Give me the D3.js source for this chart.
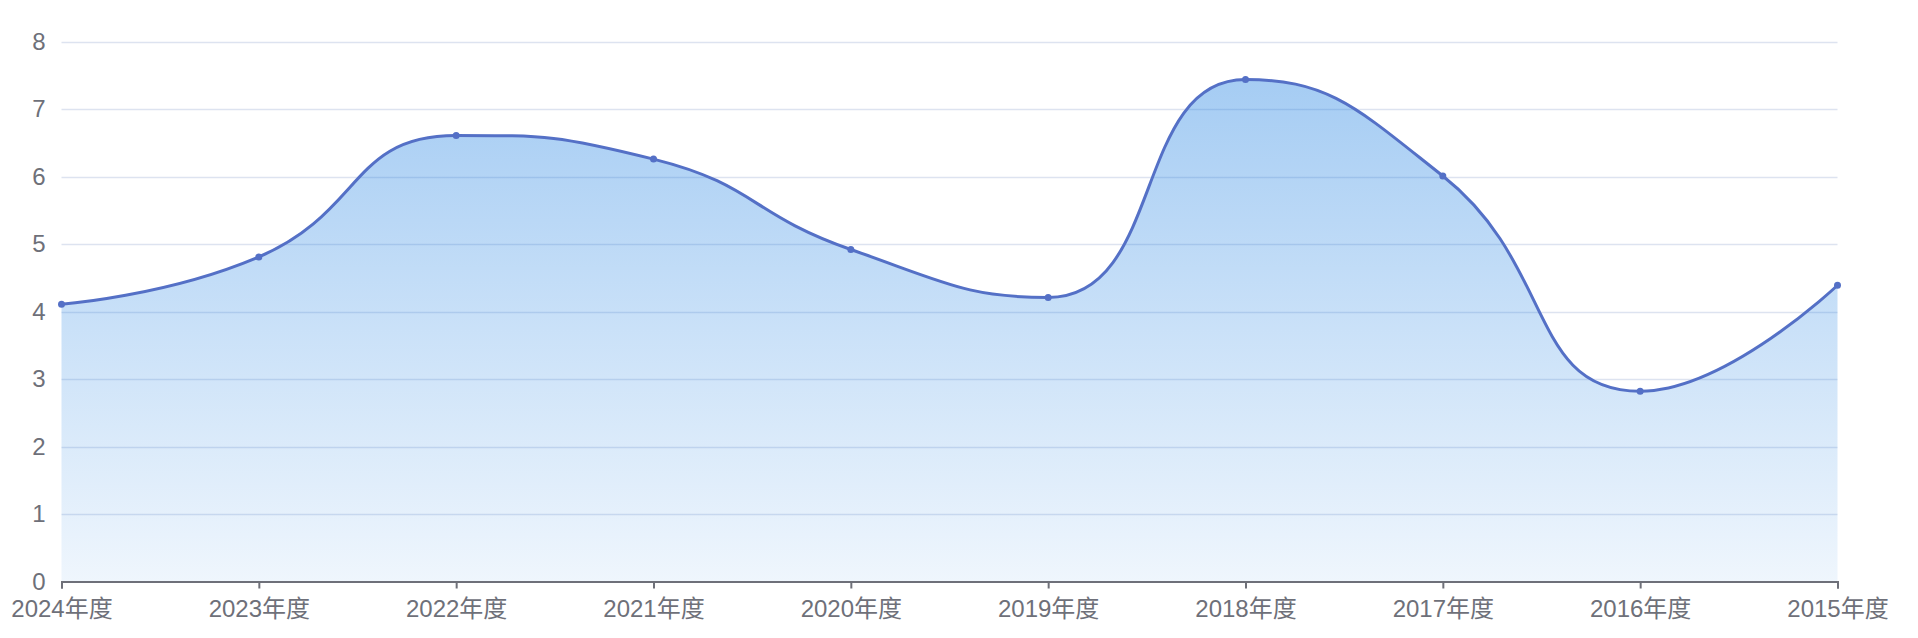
<!DOCTYPE html>
<html>
<head>
<meta charset="utf-8">
<script src="https://cdn.jsdelivr.net/npm/d3@7"></script>
<style>
  html, body { margin: 0; padding: 0; background: #fff; }
  svg { display: block; }
  text { font-family: "Liberation Sans", "Noto Sans CJK SC", sans-serif; }
</style>
</head>
<body>
<svg id="chart" width="1918" height="638"></svg>
<script>
const categories = ["2024年度","2023年度","2022年度","2021年度","2020年度","2019年度","2018年度","2017年度","2016年度","2015年度"];
const values = [4.11, 4.81, 6.61, 6.26, 4.92, 4.21, 7.44, 6.01, 2.82, 4.39];
const yTicks = [0,1,2,3,4,5,6,7,8];

const W = 1918, H = 638;
const margin = {left: 61.5, right: 80.5, top: 41.7, bottom: 56.5};
const svg = d3.select("#chart");

const x = d3.scalePoint().domain(categories).range([margin.left, W - margin.right]);
const y = d3.scaleLinear().domain([0, 8]).range([H - margin.bottom, margin.top]);

const textColor = "#6E7079";

// gridlines
svg.append("g").selectAll("line").data(yTicks.filter(d => d > 0)).join("line")
  .attr("x1", margin.left).attr("x2", W - margin.right)
  .attr("y1", d => Math.round(y(d)) + 0.5).attr("y2", d => Math.round(y(d)) + 0.5)
  .attr("stroke", "#DDE3F0").attr("stroke-width", 1.5);

// ECharts-like smooth path
const pts = categories.map((c, i) => [x(c), y(values[i])]);
function smoothPath(points, smooth, ctx) {
  let prevX, prevY, cpx0, cpy0, cpx1, cpy1, nextCpx0, nextCpy0;
  const n = points.length;
  for (let k = 0; k < n; k++) {
    const [px, py] = points[k];
    if (k === 0) {
      ctx.moveTo(px, py);
      cpx0 = px; cpy0 = py;
    } else {
      if (k >= n - 1) {
        cpx1 = px; cpy1 = py;
      } else {
        const [nx, ny] = points[k + 1];
        let vx = nx - prevX, vy = ny - prevY;
        const dx0 = px - prevX, dx1 = nx - px, dy0 = py - prevY, dy1 = ny - py;
        const lenPrev = Math.sqrt(dx0*dx0 + dy0*dy0);
        const lenNext = Math.sqrt(dx1*dx1 + dy1*dy1);
        const ratio = lenNext / (lenNext + lenPrev);
        cpx1 = px - vx * smooth * (1 - ratio);
        cpy1 = py - vy * smooth * (1 - ratio);
        nextCpx0 = px + vx * smooth * ratio;
        nextCpy0 = py + vy * smooth * ratio;
        nextCpx0 = Math.min(nextCpx0, Math.max(nx, px));
        nextCpy0 = Math.min(nextCpy0, Math.max(ny, py));
        nextCpx0 = Math.max(nextCpx0, Math.min(nx, px));
        nextCpy0 = Math.max(nextCpy0, Math.min(ny, py));
        vx = nextCpx0 - px; vy = nextCpy0 - py;
        cpx1 = px - vx * lenPrev / lenNext;
        cpy1 = py - vy * lenPrev / lenNext;
        cpx1 = Math.min(cpx1, Math.max(prevX, px));
        cpy1 = Math.min(cpy1, Math.max(prevY, py));
        cpx1 = Math.max(cpx1, Math.min(prevX, px));
        cpy1 = Math.max(cpy1, Math.min(prevY, py));
        vx = px - cpx1; vy = py - cpy1;
        nextCpx0 = px + vx * lenNext / lenPrev;
        nextCpy0 = py + vy * lenNext / lenPrev;
      }
      ctx.bezierCurveTo(cpx0, cpy0, cpx1, cpy1, px, py);
      cpx0 = nextCpx0; cpy0 = nextCpy0;
    }
    prevX = px; prevY = py;
  }
  return ctx;
}

const linePath = smoothPath(pts, 0.5, d3.path()).toString();
const areaCtx = smoothPath(pts, 0.5, d3.path());
areaCtx.lineTo(pts[pts.length - 1][0], y(0));
areaCtx.lineTo(pts[0][0], y(0));
areaCtx.closePath();

const defs = svg.append("defs");
const grad = defs.append("linearGradient").attr("id", "areaGrad")
  .attr("gradientUnits", "userSpaceOnUse")
  .attr("x1", 0).attr("x2", 0)
  .attr("y1", y(d3.max(values))).attr("y2", y(0));
grad.append("stop").attr("offset", "0%").attr("stop-color", "rgb(25,125,225)").attr("stop-opacity", 0.39);
grad.append("stop").attr("offset", "100%").attr("stop-color", "rgb(25,125,225)").attr("stop-opacity", 0.07);

svg.append("path").attr("d", areaCtx.toString()).attr("fill", "url(#areaGrad)");
svg.append("path").attr("d", linePath).attr("fill", "none")
  .attr("stroke", "#5470C6").attr("stroke-width", 3).attr("stroke-linejoin", "round");

svg.append("g").selectAll("circle").data(pts).join("circle")
  .attr("cx", d => d[0]).attr("cy", d => d[1]).attr("r", 3.5)
  .attr("fill", "#5470C6");

// x axis
const xAxis = d3.axisBottom(x).tickSize(7).tickPadding(11);
const gx = svg.append("g").attr("transform", `translate(0,${y(0)})`).call(xAxis);
gx.select(".domain").attr("stroke", textColor).attr("stroke-width", 2);
gx.selectAll(".tick line").attr("stroke", textColor).attr("stroke-width", 2);
gx.selectAll(".tick text").attr("fill", textColor).attr("font-size", 24)
  .attr("font-family", "'Liberation Sans', 'Noto Sans CJK SC', sans-serif");

// y axis labels
const yAxis = d3.axisLeft(y).tickValues(yTicks).tickSize(0).tickPadding(16).tickFormat(d3.format("d"));
const gy = svg.append("g").attr("transform", `translate(${margin.left},0)`).call(yAxis);
gy.select(".domain").remove();
gy.selectAll(".tick text").attr("fill", textColor).attr("font-size", 24)
  .attr("font-family", "'Liberation Sans', 'Noto Sans CJK SC', sans-serif");
</script>
</body>
</html>
